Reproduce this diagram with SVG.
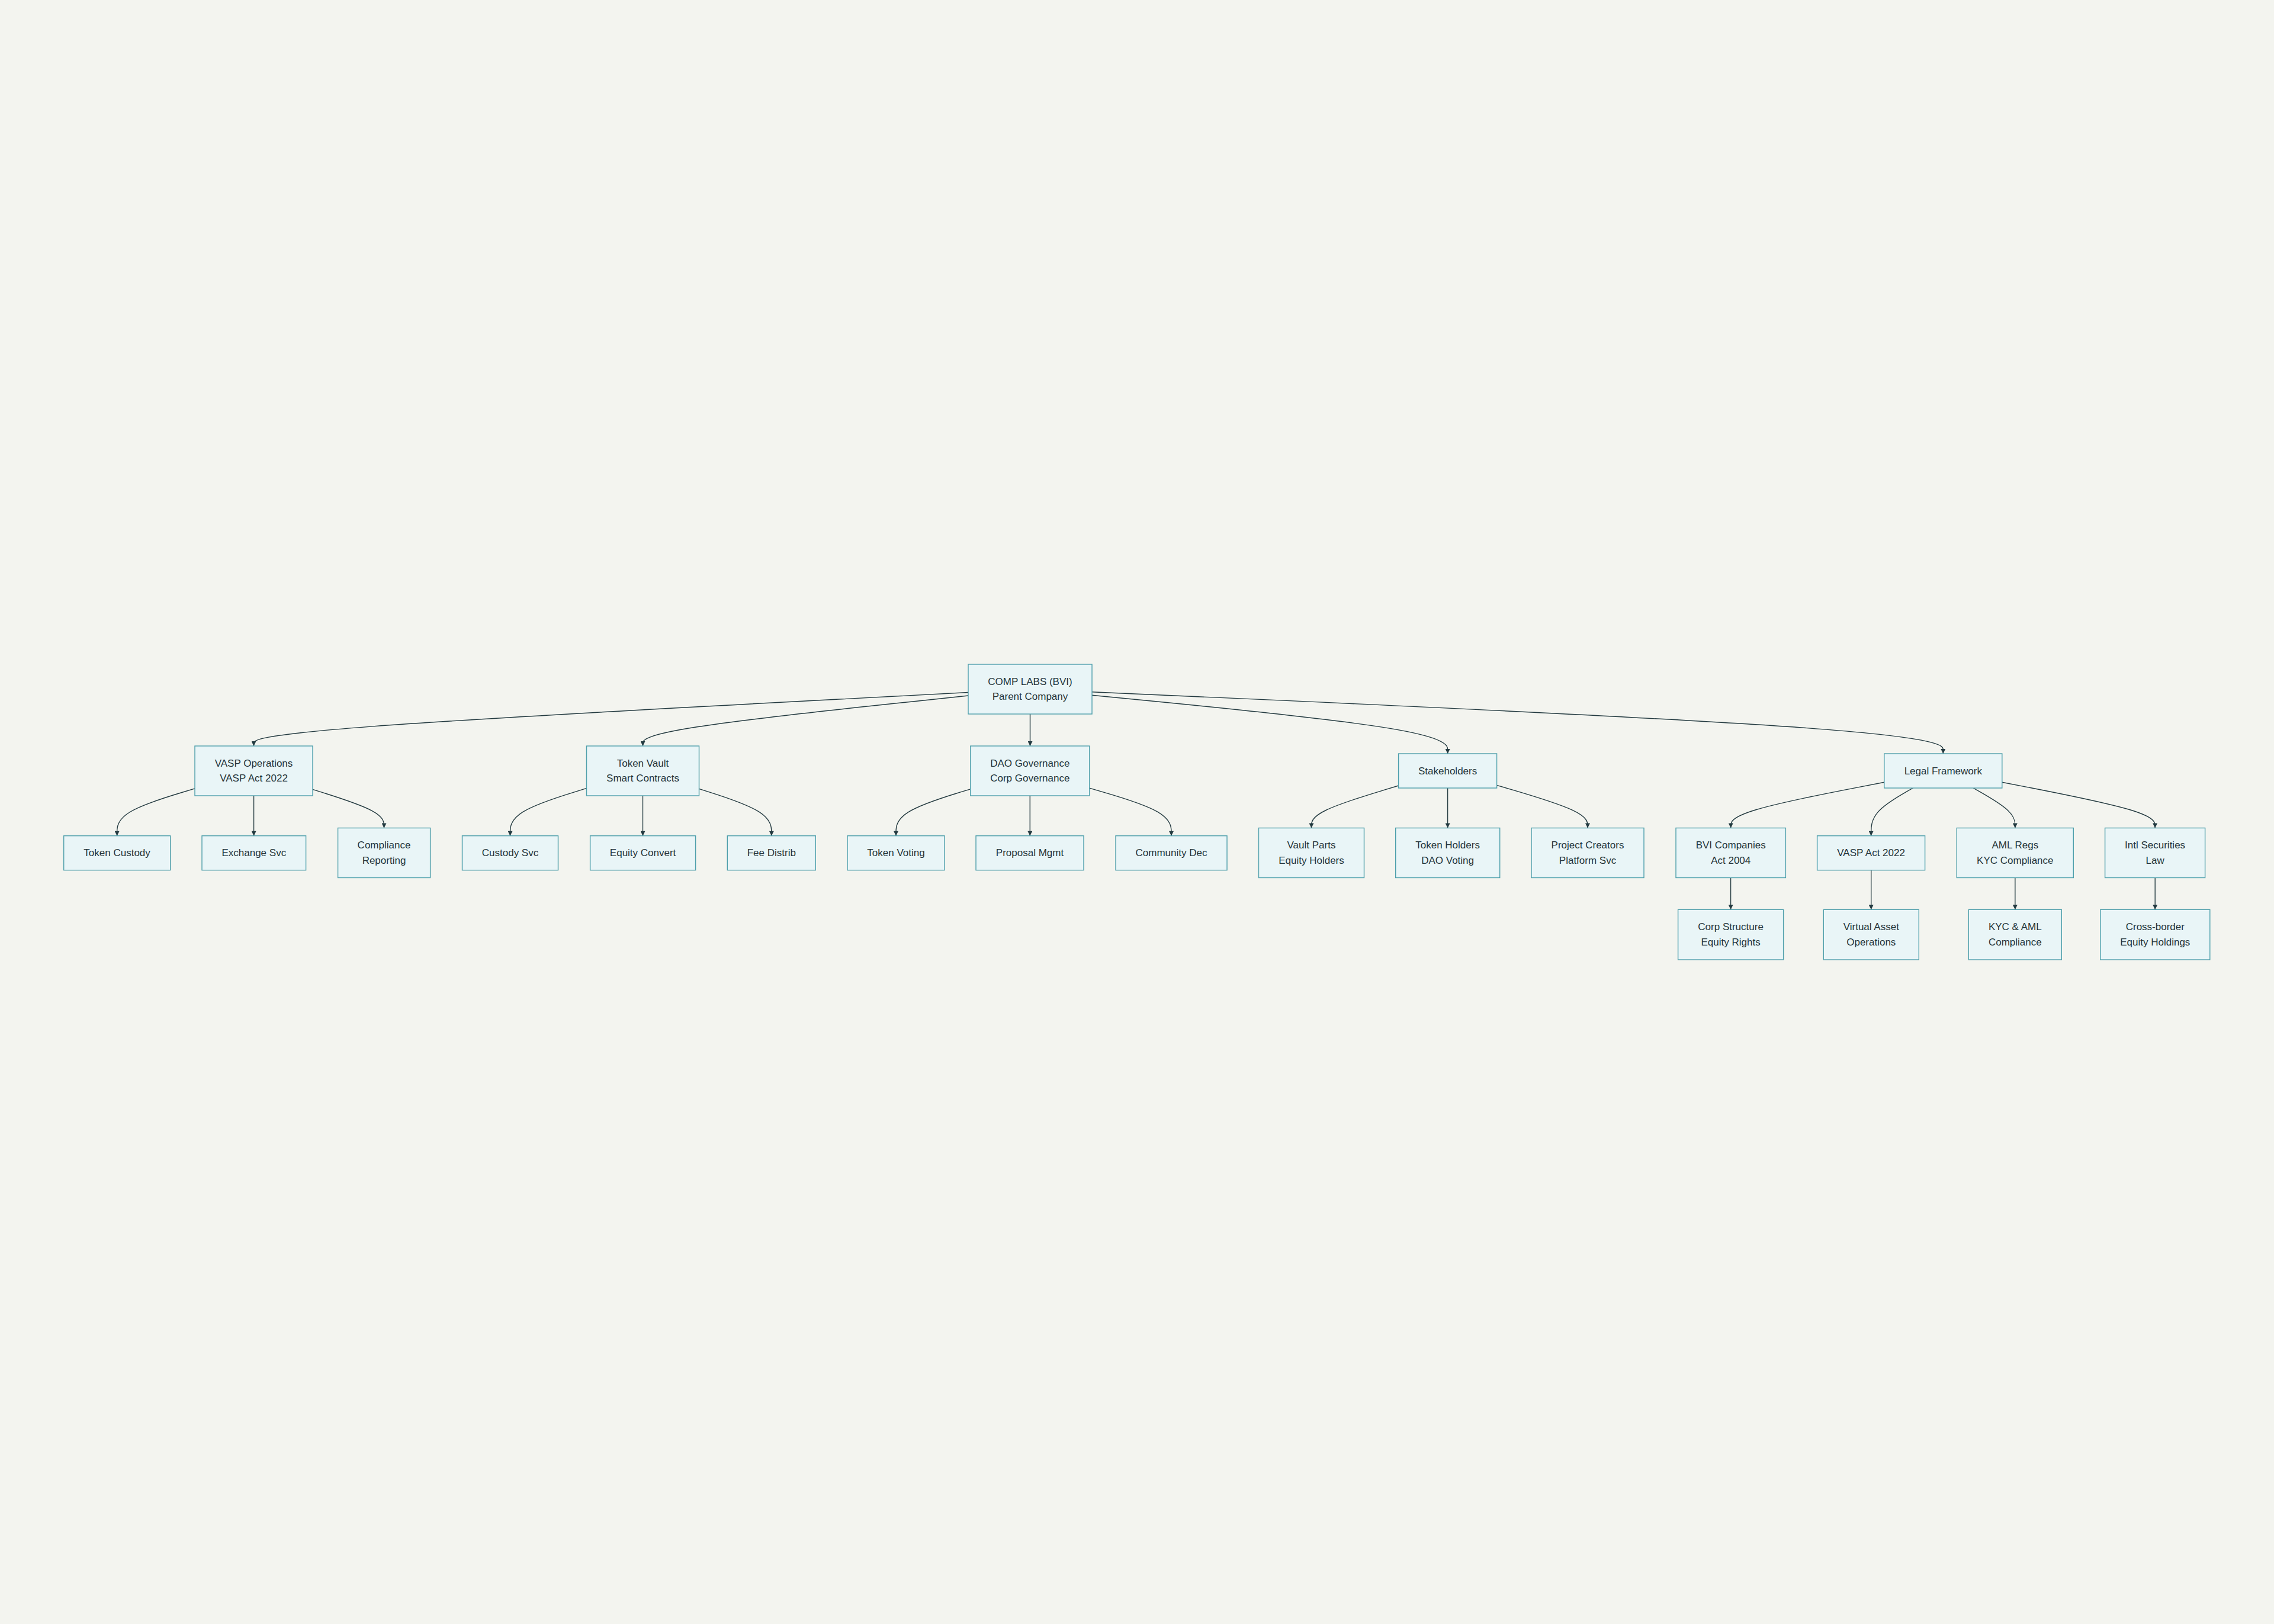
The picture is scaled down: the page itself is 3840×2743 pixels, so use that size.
<svg xmlns="http://www.w3.org/2000/svg" width="3840" height="2743" viewBox="0 0 3840 2743">
<defs>
<style>
.node rect{fill:#e9f5f7;stroke:#4e9fab;stroke-width:1.4}
.node text{font-family:"Liberation Sans",Arial,sans-serif;font-size:17px;fill:#24343a;text-anchor:middle;dominant-baseline:central}
.edges path{fill:none;stroke:#233a40;stroke-width:1.4;marker-end:url(#arrow)}
</style>
<marker id="arrow" viewBox="0 0 10 10" refX="10" refY="5" markerWidth="9" markerHeight="8" markerUnits="userSpaceOnUse" orient="auto">
<path d="M0,0 L10,5 L0,10 z" fill="#233a40"/>
</marker>
</defs>
<rect width="3840" height="2743" fill="#f3f4ef"/>
<g class="edges" id="connectors">
<path d="M1635,1169.5 L1433.9,1180.1 C1232.8,1190.7 830.7,1211.8 629.6,1226.9 C428.5,1242 428.5,1251 428.5,1255.5 L428.5,1260"/>
<path d="M1635,1175 L1543.4,1184.7 C1451.8,1194.3 1268.7,1213.7 1177.1,1227.8 C1085.5,1242 1085.5,1251 1085.5,1255.5 L1085.5,1260"/>
<path d="M1739.5,1206 L1739.5,1260"/>
<path d="M1844,1174.2 L1944.1,1184 C2044.2,1193.8 2244.4,1213.4 2344.5,1229.9 C2444.6,1246.3 2444.6,1259.7 2444.6,1266.3 L2444.6,1273"/>
<path d="M1844,1168.7 L2083.6,1179.4 C2323.1,1190.1 2802.2,1211.6 3041.75,1228.95 C3281.3,1246.3 3281.3,1259.7 3281.3,1266.3 L3281.3,1273"/>
<path d="M329,1331.9 L307.1,1338.5 C285.2,1345.05 241.4,1358.2 219.5,1371.5 C197.6,1384.8 197.6,1398.25 197.6,1405 L197.6,1411.7"/>
<path d="M428.6,1344 L428.6,1411.7"/>
<path d="M528,1333.4 L548.1,1339.7 C568.2,1346.05 608.3,1358.7 628.4,1369.55 C648.5,1380.4 648.5,1389.45 648.5,1394 L648.5,1398.5"/>
<path d="M990.5,1331.4 L969,1338.1 C947.5,1344.7 904.5,1358 883,1371.4 C861.5,1384.8 861.5,1398.25 861.5,1405 L861.5,1411.7"/>
<path d="M1085.5,1344 L1085.5,1411.7"/>
<path d="M1180.5,1332.3 L1200.9,1338.8 C1221.3,1345.3 1262,1358.3 1282.4,1371.6 C1302.8,1384.8 1302.8,1398.25 1302.8,1405 L1302.8,1411.7"/>
<path d="M1638.8,1332.8 L1617.8,1339.2 C1596.9,1345.65 1554.9,1358.5 1534,1371.65 C1513,1384.8 1513,1398.25 1513,1405 L1513,1411.7"/>
<path d="M1739.3,1344 L1739.3,1411.7"/>
<path d="M1839.8,1331.2 L1862.8,1337.9 C1885.9,1344.6 1931.9,1358 1955,1371.4 C1978,1384.8 1978,1398.25 1978,1405 L1978,1411.7"/>
<path d="M2361.6,1327 L2337.1,1334.4 C2312.6,1341.8 2263.5,1356.6 2239,1368.5 C2214.5,1380.4 2214.5,1389.45 2214.5,1394 L2214.5,1398.5"/>
<path d="M2444.6,1331 L2444.6,1398.5"/>
<path d="M2527.6,1326.35 L2553.2,1333.85 C2578.7,1341.35 2629.9,1356.35 2655.4,1368.4 C2681,1380.4 2681,1389.45 2681,1394 L2681,1398.5"/>
<path d="M3181.8,1321.2 L3138.6,1329.6 C3095.4,1337.9 3009.1,1354.6 2965.9,1367.5 C2922.7,1380.4 2922.7,1389.45 2922.7,1394 L2922.7,1398.5"/>
<path d="M3230.4,1331 L3218.6,1337.7 C3206.8,1344.45 3183.2,1357.9 3171.4,1371.35 C3159.6,1384.8 3159.6,1398.25 3159.6,1405 L3159.6,1411.7"/>
<path d="M3332.1,1331 L3343.9,1337.7 C3355.7,1344.45 3379.2,1357.9 3391,1369.15 C3402.8,1380.4 3402.8,1389.45 3402.8,1394 L3402.8,1398.5"/>
<path d="M3380.8,1321.3 L3423.9,1329.6 C3466.9,1338 3553,1354.7 3596.05,1367.5 C3639.1,1380.4 3639.1,1389.45 3639.1,1394 L3639.1,1398.5"/>
<path d="M2922.6,1482.7 L2922.6,1536.3"/>
<path d="M3159.7,1469.7 L3159.7,1536.3"/>
<path d="M3402.8,1482.7 L3402.8,1536.3"/>
<path d="M3639.2,1482.7 L3639.2,1536.3"/>
</g>
<g class="node" id="root"><rect x="1635" y="1122" width="209" height="84"/><text x="1739.5" y="1151.2">COMP LABS (BVI)</text><text x="1739.5" y="1176.8">Parent Company</text></g>
<g class="node" id="vasp-ops"><rect x="329" y="1260" width="199" height="84"/><text x="428.5" y="1289.2">VASP Operations</text><text x="428.5" y="1314.8">VASP Act 2022</text></g>
<g class="node" id="token-vault"><rect x="990.5" y="1260" width="190" height="84"/><text x="1085.5" y="1289.2">Token Vault</text><text x="1085.5" y="1314.8">Smart Contracts</text></g>
<g class="node" id="dao-gov"><rect x="1638.8" y="1260" width="201" height="84"/><text x="1739.3" y="1289.2">DAO Governance</text><text x="1739.3" y="1314.8">Corp Governance</text></g>
<g class="node" id="stakeholders"><rect x="2361.6" y="1273" width="166" height="58"/><text x="2444.6" y="1302">Stakeholders</text></g>
<g class="node" id="legal"><rect x="3181.8" y="1273" width="199" height="58"/><text x="3281.3" y="1302">Legal Framework</text></g>
<g class="node" id="token-custody"><rect x="107.7" y="1411.7" width="180" height="58"/><text x="197.6" y="1440.7">Token Custody</text></g>
<g class="node" id="exchange-svc"><rect x="341" y="1411.7" width="175.6" height="58"/><text x="428.8" y="1440.7">Exchange Svc</text></g>
<g class="node" id="compliance-reporting"><rect x="570.6" y="1398.5" width="156" height="84"/><text x="648.5" y="1427.9">Compliance</text><text x="648.5" y="1453.5">Reporting</text></g>
<g class="node" id="custody-svc"><rect x="780.5" y="1411.7" width="162" height="58"/><text x="861.5" y="1440.7">Custody Svc</text></g>
<g class="node" id="equity-convert"><rect x="996.6" y="1411.7" width="178" height="58"/><text x="1085.6" y="1440.7">Equity Convert</text></g>
<g class="node" id="fee-distrib"><rect x="1228.3" y="1411.7" width="149" height="58"/><text x="1302.8" y="1440.7">Fee Distrib</text></g>
<g class="node" id="token-voting"><rect x="1431" y="1411.7" width="164" height="58"/><text x="1513" y="1440.7">Token Voting</text></g>
<g class="node" id="proposal-mgmt"><rect x="1648" y="1411.7" width="182" height="58"/><text x="1739" y="1440.7">Proposal Mgmt</text></g>
<g class="node" id="community-dec"><rect x="1884" y="1411.7" width="188" height="58"/><text x="1978" y="1440.7">Community Dec</text></g>
<g class="node" id="vault-parts"><rect x="2125.5" y="1398.5" width="178" height="84"/><text x="2214.5" y="1427.9">Vault Parts</text><text x="2214.5" y="1453.5">Equity Holders</text></g>
<g class="node" id="token-holders"><rect x="2356.7" y="1398.5" width="176" height="84"/><text x="2444.6" y="1427.9">Token Holders</text><text x="2444.6" y="1453.5">DAO Voting</text></g>
<g class="node" id="project-creators"><rect x="2586" y="1398.5" width="190" height="84"/><text x="2681" y="1427.9">Project Creators</text><text x="2681" y="1453.5">Platform Svc</text></g>
<g class="node" id="bvi-companies"><rect x="2830" y="1398.5" width="185.4" height="84"/><text x="2922.7" y="1427.9">BVI Companies</text><text x="2922.7" y="1453.5">Act 2004</text></g>
<g class="node" id="vasp-act"><rect x="3068.6" y="1411.7" width="182" height="58"/><text x="3159.6" y="1440.7">VASP Act 2022</text></g>
<g class="node" id="aml-regs"><rect x="3304.3" y="1398.5" width="197" height="84"/><text x="3402.8" y="1427.9">AML Regs</text><text x="3402.8" y="1453.5">KYC Compliance</text></g>
<g class="node" id="intl-securities"><rect x="3554.6" y="1398.5" width="169" height="84"/><text x="3639.1" y="1427.9">Intl Securities</text><text x="3639.1" y="1453.5">Law</text></g>
<g class="node" id="corp-structure"><rect x="2833.6" y="1536.3" width="178" height="84.7"/><text x="2922.6" y="1565.9">Corp Structure</text><text x="2922.6" y="1591.5">Equity Rights</text></g>
<g class="node" id="virtual-asset"><rect x="3079.3" y="1536.3" width="161" height="84.7"/><text x="3159.8" y="1565.9">Virtual Asset</text><text x="3159.8" y="1591.5">Operations</text></g>
<g class="node" id="kyc-aml"><rect x="3324.3" y="1536.3" width="157" height="84.7"/><text x="3402.8" y="1565.9">KYC &amp; AML</text><text x="3402.8" y="1591.5">Compliance</text></g>
<g class="node" id="cross-border"><rect x="3546.8" y="1536.3" width="185" height="84.7"/><text x="3639.3" y="1565.9">Cross-border</text><text x="3639.3" y="1591.5">Equity Holdings</text></g>
</svg>
